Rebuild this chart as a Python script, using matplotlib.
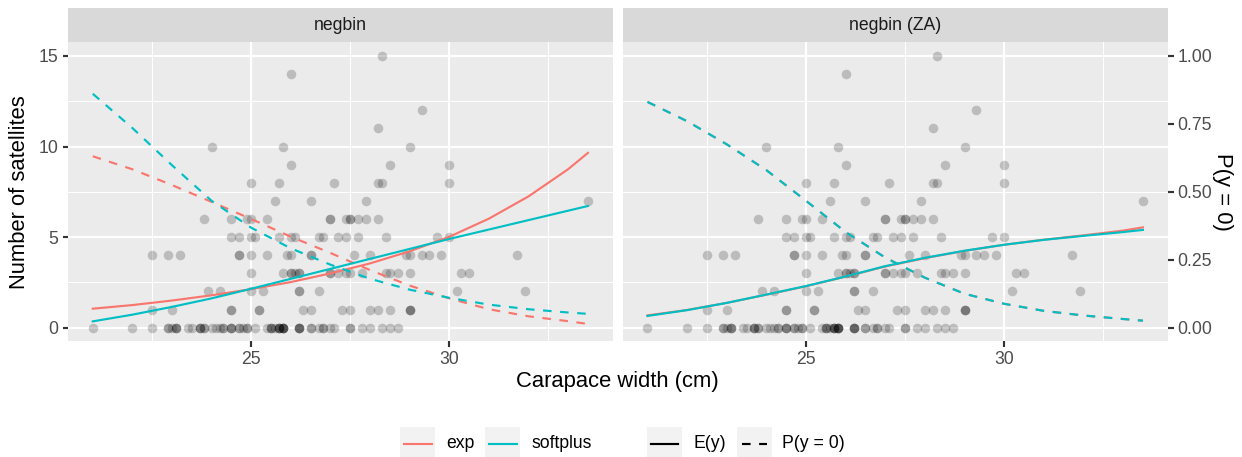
import matplotlib
matplotlib.use("Agg")
import matplotlib.pyplot as plt
from matplotlib.patches import Rectangle
from matplotlib.lines import Line2D
from matplotlib.ticker import FixedLocator, FormatStrFormatter

plt.rcParams['font.family'] = ['Liberation Sans', 'DejaVu Sans']

# ---------------- data ----------------
width = [
    28.3, 22.5, 26.0, 24.8, 26.0, 23.8, 26.5, 24.7, 23.7, 25.6,
    24.3, 25.8, 28.2, 21.0, 26.0, 27.1, 25.2, 29.0, 24.7, 27.4,
    23.2, 25.0, 22.5, 26.7, 25.8, 26.2, 28.7, 26.8, 27.5, 24.9,
    29.3, 25.8, 25.7, 25.7, 26.7, 23.7, 26.8, 27.5, 23.4, 27.9,
    27.5, 26.1, 27.7, 30.0, 28.5, 28.9, 28.2, 25.0, 28.5, 30.3,
    24.7, 27.7, 27.4, 22.9, 25.7, 28.3, 27.2, 26.2, 27.8, 25.5,
    27.1, 24.5, 27.0, 26.0, 28.0, 30.0, 29.0, 26.2, 26.5, 26.2,
    25.6, 23.0, 23.0, 25.4, 24.2, 22.9, 26.0, 25.4, 25.7, 25.1,
    24.5, 27.5, 23.1, 25.9, 25.8, 27.0, 28.5, 25.5, 23.5, 24.0,
    29.7, 26.8, 26.7, 28.7, 23.1, 29.0, 25.5, 26.5, 24.5, 28.5,
    28.2, 24.5, 27.5, 24.7, 25.2, 27.3, 26.3, 29.0, 25.3, 26.5,
    27.8, 27.0, 25.7, 25.0, 31.9, 23.7, 29.3, 22.0, 25.0, 27.0,
    23.8, 30.2, 26.2, 24.2, 27.4, 25.4, 28.4, 22.5, 26.2, 24.9,
    24.5, 25.1, 28.0, 25.8, 27.9, 24.9, 28.4, 27.2, 25.0, 27.5,
    33.5, 30.5, 29.0, 24.3, 25.8, 25.0, 31.7, 29.5, 24.0, 30.0,
    27.6, 26.2, 23.1, 22.9, 24.5, 24.7, 28.3, 23.9, 23.8, 29.8,
    26.5, 26.0, 28.2, 25.7, 26.5, 25.8, 24.1, 26.2, 26.1, 29.0,
    28.0, 27.0, 24.5,
]
satellites = [
    8, 0, 9, 0, 4, 0, 0, 0, 0, 0,
    0, 0, 11, 0, 14, 8, 1, 1, 0, 5,
    4, 3, 1, 2, 3, 0, 3, 5, 0, 0,
    4, 0, 0, 8, 5, 0, 0, 6, 0, 6,
    3, 5, 6, 5, 9, 4, 6, 4, 3, 3,
    5, 5, 6, 4, 5, 15, 3, 3, 0, 0,
    0, 5, 3, 5, 1, 8, 10, 0, 0, 3,
    7, 1, 0, 6, 0, 0, 3, 4, 0, 5,
    0, 0, 0, 4, 0, 3, 0, 0, 0, 0,
    5, 0, 0, 0, 0, 1, 0, 1, 1, 1,
    1, 1, 1, 4, 1, 1, 1, 1, 2, 4,
    3, 6, 0, 2, 2, 0, 12, 0, 5, 6,
    6, 2, 0, 2, 3, 0, 3, 4, 2, 6,
    6, 0, 4, 10, 7, 0, 5, 5, 6, 6,
    7, 3, 3, 0, 0, 8, 4, 4, 10, 9,
    4, 0, 0, 0, 0, 4, 0, 2, 0, 4,
    4, 3, 8, 0, 7, 0, 0, 2, 3, 4,
    0, 0, 0,
]

grid_w = [21, 22, 23, 24, 25, 26, 27, 28, 29, 30, 31, 32, 33, 33.5]

# panel "negbin"
nb_e_exp = [1.05, 1.25, 1.50, 1.79, 2.13, 2.52, 3.00, 3.55, 4.22, 5.02, 6.02, 7.25, 8.75, 9.65]
nb_e_soft = [0.35, 0.72, 1.15, 1.62, 2.15, 2.70, 3.25, 3.80, 4.35, 4.90, 5.42, 5.94, 6.46, 6.72]
nb_p0_exp = [0.631, 0.583, 0.525, 0.463, 0.400, 0.335, 0.275, 0.212, 0.155, 0.108, 0.068, 0.042, 0.024, 0.014]
nb_p0_soft = [0.861, 0.735, 0.598, 0.467, 0.368, 0.292, 0.232, 0.180, 0.140, 0.110, 0.085, 0.068, 0.056, 0.051]

# panel "negbin (ZA)"
za_e_exp = [0.68, 0.98, 1.37, 1.82, 2.29, 2.82, 3.38, 3.84, 4.24, 4.58, 4.86, 5.10, 5.36, 5.54]
za_e_soft = [0.65, 0.97, 1.37, 1.83, 2.30, 2.83, 3.40, 3.86, 4.25, 4.58, 4.85, 5.07, 5.28, 5.40]
za_p0_exp = [0.831, 0.760, 0.675, 0.580, 0.467, 0.352, 0.258, 0.184, 0.125, 0.088, 0.062, 0.045, 0.032, 0.026]
za_p0_soft = [0.831, 0.760, 0.675, 0.580, 0.467, 0.352, 0.258, 0.184, 0.125, 0.088, 0.062, 0.045, 0.032, 0.026]

panel_titles = ["negbin", "negbin (ZA)"]
link_labels = ["exp", "softplus"]
quantity_labels = ["E(y)", "P(y = 0)"]
y_ticks = [0, 5, 10, 15]
x_ticks = [25, 30]
p_ticks = [0.0, 0.25, 0.5, 0.75, 1.0]
P_SCALE = 15  # secondary axis: P(y = 0) * 15 on the count axis

# ---------------- style ----------------
COL_EXP = '#F8766D'
COL_SOFT = '#00BFC4'
PANEL_BG = '#EBEBEB'
STRIP_BG = '#D9D9D9'
TICK_COL = '#333333'
TICKLAB_COL = '#4D4D4D'
LW = 1.07

W, H = 1242, 457
DPI = 144
fig = plt.figure(figsize=(W / DPI, H / DPI), dpi=DPI)


def box(x0, y0, x1, y1):
    return [x0 / W, 1 - y1 / H, (x1 - x0) / W, (y1 - y0) / H]


def fx(x):
    return x / W


def fy(y):
    return 1 - y / H


panel_px = [(68.0, 612.7), (622.7, 1167.7)]
TOP, BOTTOM, STRIP_TOP = 42.4, 341.3, 8.0

panels = [
    (nb_e_exp, nb_e_soft, nb_p0_exp, nb_p0_soft),
    (za_e_exp, za_e_soft, za_p0_exp, za_p0_soft),
]

for i, ((x0, x1), title, curves) in enumerate(zip(panel_px, panel_titles, panels)):
    ax = fig.add_axes(box(x0, TOP, x1, BOTTOM))
    ax.set_facecolor(PANEL_BG)
    for s in ax.spines.values():
        s.set_visible(False)
    ax.set_xlim(20.375, 34.125)
    ax.set_ylim(-0.75, 15.75)
    ax.xaxis.set_major_locator(FixedLocator(x_ticks))
    ax.xaxis.set_minor_locator(FixedLocator([22.5, 27.5, 32.5]))
    ax.yaxis.set_major_locator(FixedLocator(y_ticks))
    ax.yaxis.set_minor_locator(FixedLocator([2.5, 7.5, 12.5]))
    ax.grid(which='major', color='white', linewidth=LW)
    ax.grid(which='minor', color='white', linewidth=LW / 2)
    ax.set_axisbelow(True)
    ax.tick_params(which='major', length=2.75, width=LW, color=TICK_COL,
                   labelcolor=TICKLAB_COL, labelsize=8.8, pad=2.2)
    ax.tick_params(which='minor', length=0)
    if i == 1:
        ax.tick_params(axis='y', which='major', left=False, labelleft=False)

    ax.scatter(width, satellites, s=23, color='black', alpha=0.2,
               linewidths=0, zorder=2)

    e_exp, e_soft, p0_exp, p0_soft = curves
    ax.plot(grid_w, e_exp, color=COL_EXP, lw=LW, zorder=3)
    ax.plot(grid_w, [p * P_SCALE for p in p0_exp], color=COL_EXP, lw=LW,
            linestyle=(0, (4, 4)), zorder=3)
    ax.plot(grid_w, e_soft, color=COL_SOFT, lw=LW, zorder=3)
    ax.plot(grid_w, [p * P_SCALE for p in p0_soft], color=COL_SOFT, lw=LW,
            linestyle=(0, (4, 4)), zorder=3)

    if i == 1:
        sec = ax.secondary_yaxis('right', functions=(lambda y: y / P_SCALE,
                                                     lambda p: p * P_SCALE))
        sec.yaxis.set_major_locator(FixedLocator(p_ticks))
        sec.yaxis.set_major_formatter(FormatStrFormatter('%.2f'))
        sec.tick_params(length=2.75, width=LW, color=TICK_COL,
                        labelcolor=TICKLAB_COL, labelsize=8.8, pad=2.2)
        sec.spines['right'].set_visible(False)

    # strip
    sax = fig.add_axes(box(x0, STRIP_TOP, x1, TOP))
    sax.set_facecolor(STRIP_BG)
    sax.set_xticks([])
    sax.set_yticks([])
    for s in sax.spines.values():
        s.set_visible(False)
    sax.text(0.5, 0.5, title, ha='center', va='center', fontsize=8.8,
             color='#1A1A1A', transform=sax.transAxes)

# axis titles
fig.text(fx(617.5), fy(381.5), "Carapace width (cm)", ha='center', va='center',
         fontsize=11, color='black')
fig.text(fx(20), fy(192), "Number of satellites", ha='center', va='center',
         fontsize=11, rotation=90, color='black')
fig.text(fx(1223), fy(192), "P(y = 0)", ha='center', va='center',
         fontsize=11, rotation=270, color='black')

# legend (drawn manually in ggplot style)
KEY_T, KEY_B, KEY_C = 427.0, 457.0, 444.0
keys = [
    (400.0, COL_EXP, '-', link_labels[0], 446.0),
    (485.0, COL_SOFT, '-', link_labels[1], 531.0),
    (646.7, 'black', '-', quantity_labels[0], 693.3),
    (736.7, 'black', '--', quantity_labels[1], 781.7),
]
for kx, col, ls, lab, tx in keys:
    fig.add_artist(Rectangle((fx(kx), fy(KEY_B)), 35 / W, (KEY_B - KEY_T) / H,
                             transform=fig.transFigure, facecolor='#F2F2F2',
                             edgecolor='none'))
    if ls == '-':
        fig.add_artist(Line2D([fx(kx + 4), fx(kx + 31.5)], [fy(KEY_C), fy(KEY_C)],
                              transform=fig.transFigure, color=col, lw=LW))
    else:
        fig.add_artist(Line2D([fx(kx + 5), fx(kx + 30.5)], [fy(KEY_C), fy(KEY_C)],
                              transform=fig.transFigure, color=col, lw=LW,
                              linestyle=(0, (4, 4))))
    fig.text(fx(tx), fy(KEY_C), lab, ha='left', va='center', fontsize=8.8,
             color='black')

fig.savefig('out.png', dpi=DPI)
